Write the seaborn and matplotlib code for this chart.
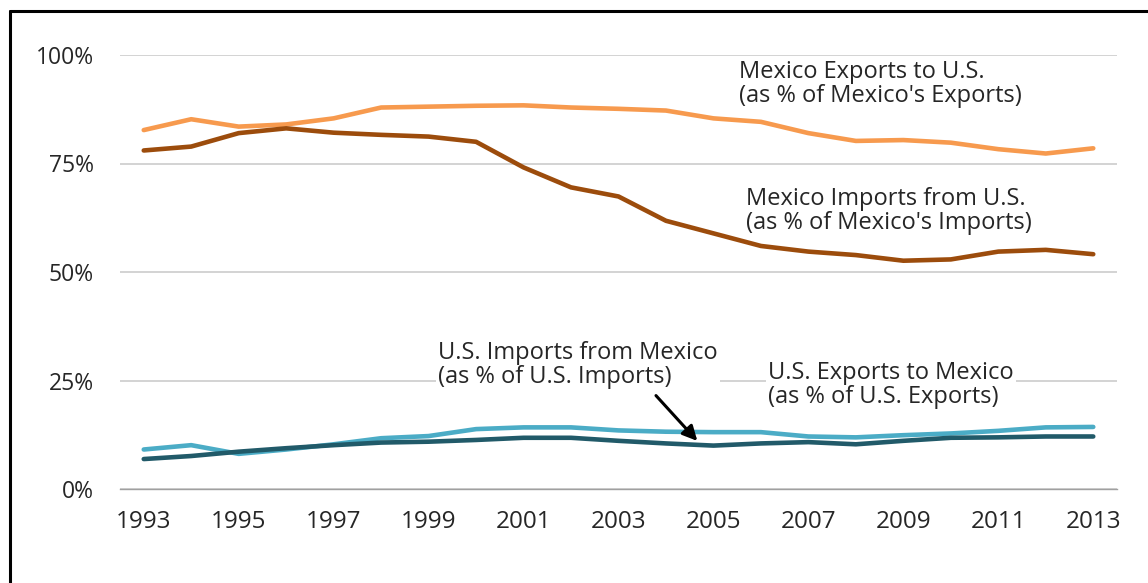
import numpy as np
import pandas as pd
import matplotlib
matplotlib.use("Agg")
import matplotlib.pyplot as plt
from matplotlib.ticker import PercentFormatter, FixedLocator
from matplotlib.lines import Line2D
import seaborn as sns

# values (percent)
years = list(range(1993, 2014))
mex_exports_to_us = [82.7, 85.2, 83.5, 84.0, 85.4, 87.9, 88.1, 88.3, 88.4, 87.9, 87.6,
                     87.2, 85.4, 84.6, 82.0, 80.2, 80.4, 79.8, 78.3, 77.3, 78.5]
mex_imports_from_us = [78.0, 78.9, 82.0, 83.1, 82.1, 81.6, 81.2, 80.0, 74.1, 69.5, 67.4,
                       61.8, 58.9, 56.0, 54.7, 53.9, 52.6, 52.9, 54.7, 55.1, 54.1]
us_exports_to_mex = [9.1, 10.1, 8.1, 9.1, 10.3, 11.7, 12.2, 13.8, 14.2, 14.2, 13.5,
                     13.2, 13.1, 13.1, 12.1, 11.9, 12.4, 12.8, 13.4, 14.2, 14.3]
us_imports_from_mex = [6.9, 7.6, 8.6, 9.4, 10.1, 10.7, 10.9, 11.3, 11.8, 11.8, 11.1,
                       10.5, 10.0, 10.5, 10.8, 10.3, 11.1, 11.8, 11.9, 12.1, 12.1]

series_names = ["Mexico Exports", "Mexico Imports", "US Exports", "US Imports"]
colors = {"Mexico Exports": "#F79A4E", "Mexico Imports": "#9C4C0C",
          "US Exports": "#4BACC6", "US Imports": "#215A69"}

df = pd.DataFrame({
    "year": years * 4,
    "share": mex_exports_to_us + mex_imports_from_us + us_exports_to_mex + us_imports_from_mex,
    "series": sum([[n] * len(years) for n in series_names], []),
})

sns.set_style("white")
plt.rcParams["font.family"] = ["Open Sans", "DejaVu Sans"]

W, H = 1148, 583
FS = 17
TXT = "#262626"
fig = plt.figure(figsize=(W / 100, H / 100), dpi=100)
ax = fig.add_axes([120 / W, 1 - 489 / H, (1117 - 120) / W, (489 - 55) / H])

sns.lineplot(data=df, x="year", y="share", hue="series", palette=colors,
             linewidth=3.3, legend=False, ax=ax, zorder=3)

ax.set_xlim(1992.5, 2013.5)
ax.set_ylim(0, 100)
ax.set_yticks([0, 25, 50, 75, 100])
ax.yaxis.set_major_formatter(PercentFormatter(100, decimals=0))
ax.grid(axis="y", color="#C8C8C8", linewidth=1.1)
ax.grid(axis="x", visible=False)
ax.tick_params(axis="y", length=0, pad=19, labelsize=16.5, labelcolor=TXT)

# category-style x axis: tick marks between years, labels on odd years
ax.xaxis.set_major_locator(FixedLocator(np.arange(1992.5, 2014, 1)))
ax.set_xticklabels([])
ax.set_xticks(years[::2], minor=True)
ax.set_xticklabels([str(y) for y in years[::2]], minor=True)
ax.tick_params(axis="x", which="major", length=6, width=1, color="#A0A0A0", direction="out")
ax.tick_params(axis="x", which="minor", length=0, pad=15, labelsize=17.5, labelcolor=TXT)

for side in ["top", "right", "left"]:
    ax.spines[side].set_visible(False)
ax.spines["bottom"].set_color("#A0A0A0")
ax.spines["bottom"].set_linewidth(1)
ax.set_xlabel("")
ax.set_ylabel("")


def put(px, py, s, box=False):
    kw = dict(fontsize=FS, color=TXT, va="top", ha="left", linespacing=1.0)
    if box:
        kw["bbox"] = dict(facecolor="white", edgecolor="none", pad=1.5)
    fig.text(px / W, 1 - py / H, s, **kw)


put(739, 60, "Mexico Exports to U.S.\n(as % of Mexico's Exports)")
put(746, 187, "Mexico Imports from U.S.\n(as % of Mexico's Imports)")
put(438, 341, "U.S. Imports from Mexico\n(as % of U.S. Imports)", box=True)
put(768, 361, "U.S. Exports to Mexico\n(as % of U.S. Exports)", box=True)

ax.annotate("", xy=(2004.7, 10.6), xytext=(2003.75, 22.0),
            arrowprops=dict(arrowstyle="-|>", color="black", lw=2.2, mutation_scale=22),
            zorder=5)

# frame around the figure (top and left edges visible in the reference)
fig.add_artist(Line2D([10 / W, 10 / W], [0, 1 - 11 / H], transform=fig.transFigure,
                      color="black", linewidth=2.2))
fig.add_artist(Line2D([10 / W, 1], [1 - 11 / H, 1 - 11 / H], transform=fig.transFigure,
                      color="black", linewidth=2.2))

fig.savefig("out.png", dpi=100, facecolor="white")
